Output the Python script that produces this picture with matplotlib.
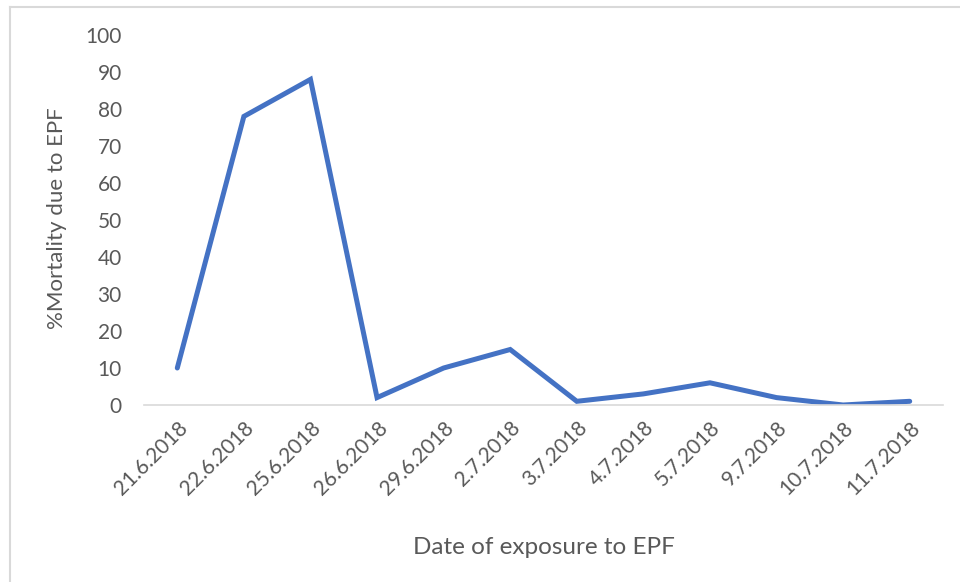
import matplotlib
matplotlib.use('Agg')
import matplotlib.pyplot as plt
from matplotlib.lines import Line2D

dates = ['21.6.2018', '22.6.2018', '25.6.2018', '26.6.2018', '29.6.2018', '2.7.2018',
         '3.7.2018', '4.7.2018', '5.7.2018', '9.7.2018', '10.7.2018', '11.7.2018']
mortality = [10, 78, 88, 2, 10, 15, 1, 3, 6, 2, 0, 1]

grey = '#595959'
plt.rcParams['font.family'] = ['Lato', 'DejaVu Sans']

fig = plt.figure(figsize=(9.6, 5.82), dpi=100)
ax = fig.add_axes([144/960, 1-405/582, (943-144)/960, (405-35)/582])

x = range(len(dates))
ax.plot(x, mortality, color='#4472C4', lw=3.6, solid_capstyle='round', solid_joinstyle='miter')

ax.set_xlim(-0.5, len(dates)-0.5)
ax.set_ylim(0, 100)
ax.set_yticks(range(0, 101, 10))
ax.set_xticks(list(x))
ax.set_xticklabels(dates, rotation=45, ha='right', rotation_mode='anchor')
ax.tick_params(axis='both', length=0, labelsize=15, colors=grey)
ax.tick_params(axis='y', pad=16)
ax.tick_params(axis='x', pad=9)

for s in ['top', 'right', 'left']:
    ax.spines[s].set_visible(False)
ax.spines['bottom'].set_color('#d9d9d9')
ax.spines['bottom'].set_linewidth(1.2)

ax.set_xlabel('Date of exposure to EPF', fontsize=17.5, color=grey)
ax.set_ylabel('%Mortality due to EPF', fontsize=16, color=grey)
ax.xaxis.set_label_coords(0.5, -(537-405)/370)
ax.yaxis.set_label_coords(-(144-67)/799, 0.505)

# outer chart frame (top and left edges visible)
fig.add_artist(Line2D([10/960, 1], [1-7/582, 1-7/582], transform=fig.transFigure, color='#d9d9d9', lw=1.5))
fig.add_artist(Line2D([10/960, 10/960], [0, 1-7/582], transform=fig.transFigure, color='#d9d9d9', lw=1.5))

fig.savefig('out.png', dpi=100)
